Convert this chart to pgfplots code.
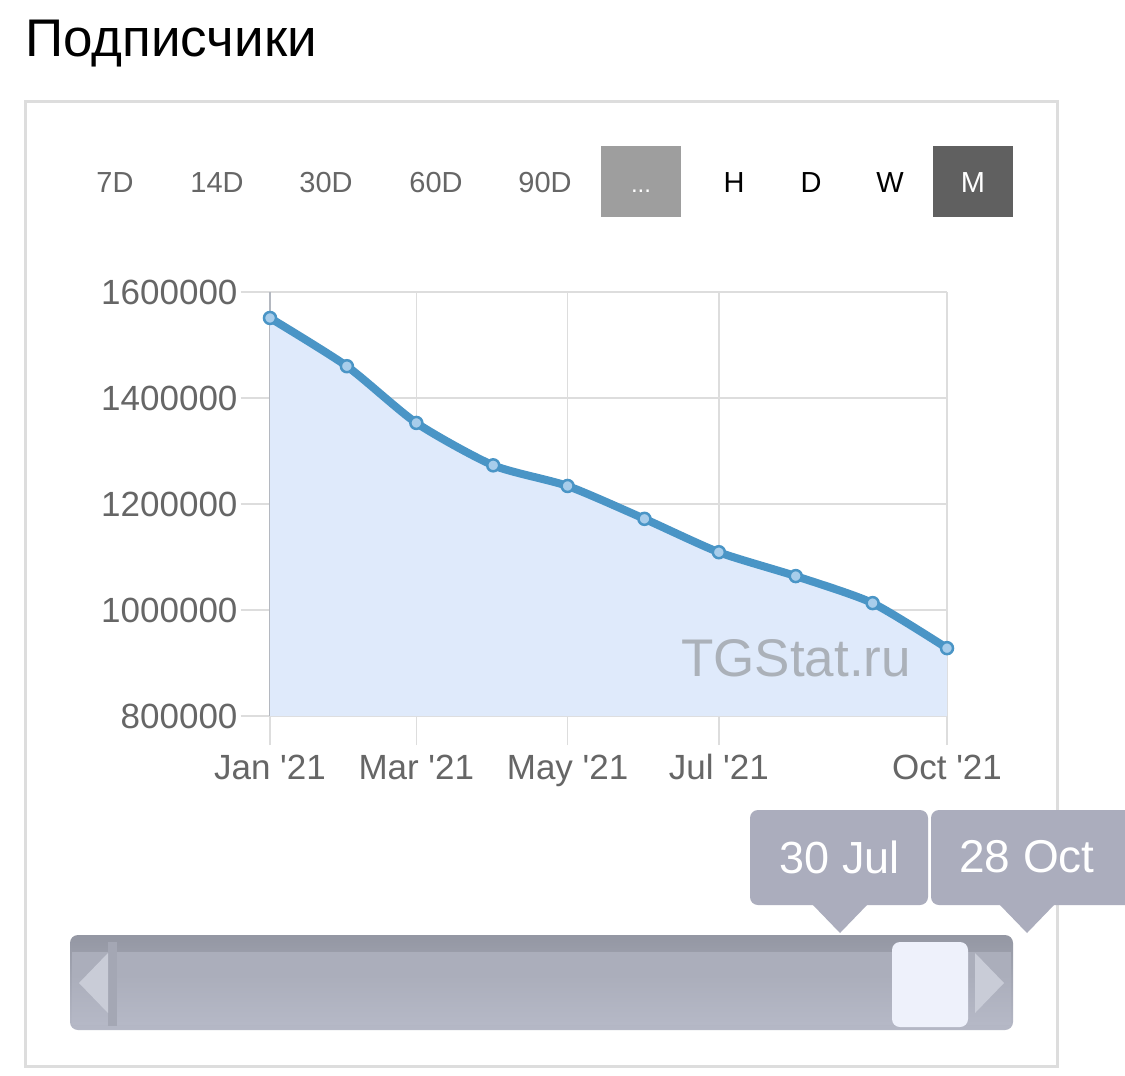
\documentclass[border=0pt]{standalone}
\usepackage{fontspec}
\setmainfont{Liberation Sans}
\usepackage{pgfplots}
\pgfplotsset{compat=1.18}
\definecolor{gridgray}{HTML}{DDDDDD}
\definecolor{axisgray}{HTML}{B4B8C0}
\definecolor{lineblue}{HTML}{4A95C6}
\definecolor{markfill}{HTML}{A8CDEB}
\definecolor{areablue}{HTML}{DFEAFB}
\definecolor{labelgray}{HTML}{666666}
\definecolor{tipfill}{HTML}{ABADBD}
\definecolor{slidertop}{HTML}{9497A3}
\definecolor{slidermid}{HTML}{ABAEBB}
\definecolor{sliderbot}{HTML}{B5B8C6}
\definecolor{arrowfill}{HTML}{C9CCD7}
\definecolor{handlefill}{HTML}{EEF1FB}
\definecolor{wmgray}{HTML}{ABB1B9}
\definecolor{btngray}{HTML}{9E9E9E}
\definecolor{btndark}{HTML}{606060}
\definecolor{bandgray}{HTML}{A4A7B4}
\begin{document}
\begin{tikzpicture}
\useasboundingbox (0,0) rectangle (1125pt,-1076pt);
\fill[white] (0,0) rectangle (1125pt,-1076pt);
% title
\node[anchor=west, inner sep=0pt] at (25pt,-44pt) {\fontsize{53}{58}\selectfont Подписчики};
% outer box
\draw[gridgray, line width=3pt] (25pt,-101pt) rectangle (1057pt,-1066pt);
% buttons
\begin{scope}[every node/.style={inner sep=0pt, anchor=base, font=\fontsize{29}{32}\selectfont}]
\node[text=labelgray] at (115pt,-192pt) {7D};
\node[text=labelgray] at (217pt,-192pt) {14D};
\node[text=labelgray] at (326pt,-192pt) {30D};
\node[text=labelgray] at (436pt,-192pt) {60D};
\node[text=labelgray] at (545pt,-192pt) {90D};
\fill[btngray] (601pt,-146pt) rectangle (681pt,-217pt);
\node[text=white, font=\fontsize{24}{28}\selectfont] at (641pt,-192pt) {...};
\node[text=black] at (734pt,-192pt) {H};
\node[text=black] at (811pt,-192pt) {D};
\node[text=black] at (890pt,-192pt) {W};
\fill[btndark] (933pt,-146pt) rectangle (1013pt,-217pt);
\node[text=white] at (973pt,-192pt) {M};
\end{scope}
\begin{axis}[
  at={(270pt,-716pt)}, anchor=south west,
  scale only axis, width=677pt, height=424pt,
  xmin=0, xmax=273, ymin=800000, ymax=1600000,
  xtick={0,59,120,181,273},
  xticklabels={Jan \textquotesingle21, Mar \textquotesingle21, May \textquotesingle21, Jul \textquotesingle21, Oct \textquotesingle21},
  ytick={800000,1000000,1200000,1400000,1600000},
  scaled y ticks=false,
  /pgf/number format/.cd, fixed, 1000 sep={}, assume math mode=true, /pgfplots/.cd,
  grid=major, grid style={gridgray, line width=1.5pt},
  axis lines*=left,
  x axis line style={gridgray, line width=1.5pt},
  y axis line style={axisgray, line width=2pt},
  tick align=outside, major tick length=29pt,
  xtick style={gridgray, line width=1.5pt},
  ytick style={gridgray, line width=1.5pt},
  tick label style={text=labelgray, font=\fontsize{35}{38}\selectfont},
  xticklabel style={text height=26pt, yshift=-5pt},
  clip=false,
]
\addplot[fill=areablue, draw=none, smooth, tension=0.4] table {
x y
0 1551000
31 1460000
59 1353000
90 1273000
120 1234000
151 1172000
181 1109000
212 1064000
243 1013000
273 928000
} \closedcycle;
\node[text=wmgray, font=\fontsize{53}{58}\selectfont] at (rel axis cs:0.777,0.137) {TGStat.ru};
\addplot[line width=8pt, color=lineblue, smooth, tension=0.4, mark=*,
  mark options={fill=markfill, draw=lineblue, line width=2.5pt}, mark size=6pt] table {
x y
0 1551000
31 1460000
59 1353000
90 1273000
120 1234000
151 1172000
181 1109000
212 1064000
243 1013000
273 928000
};
\end{axis}
% slider
\shade[top color=slidertop, middle color=slidermid, bottom color=sliderbot, rounded corners=8pt] (70pt,-935pt) rectangle (1013pt,-1030pt);
\fill[slidermid] (72pt,-952pt) rectangle (1011pt,-975pt);
\shade[top color=slidermid, bottom color=sliderbot] (72pt,-975pt) rectangle (1011pt,-1024pt);
\fill[bandgray] (108pt,-942pt) rectangle (117pt,-1026pt);
\fill[arrowfill] (108pt,-953pt) -- (79pt,-983pt) -- (108pt,-1013pt) -- cycle;
\fill[arrowfill] (975pt,-953pt) -- (1004pt,-983pt) -- (975pt,-1013pt) -- cycle;
\fill[handlefill, rounded corners=8pt] (892pt,-942pt) rectangle (968pt,-1027pt);
% tooltips
\fill[tipfill, rounded corners=8pt] (750pt,-810pt) rectangle (928pt,-905pt);
\fill[tipfill] (812pt,-904pt) -- (840pt,-933pt) -- (868pt,-904pt) -- cycle;
\node[text=white, font=\fontsize{45}{48}\selectfont] at (840pt,-857pt) {30 Jul};
\fill[tipfill, rounded corners=8pt] (931pt,-810pt) rectangle (1135pt,-905pt);
\fill[tipfill] (999pt,-904pt) -- (1027pt,-933pt) -- (1055pt,-904pt) -- cycle;
\node[text=white, font=\fontsize{46}{48}\selectfont] at (1027pt,-857pt) {28 Oct};
\end{tikzpicture}
\end{document}
